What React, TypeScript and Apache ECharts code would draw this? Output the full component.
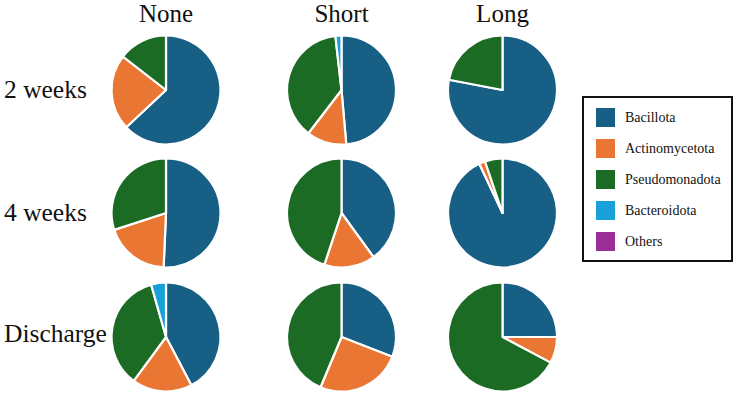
import React, { useEffect, useRef } from "react";
import * as echarts from "echarts";

// Phylum composition (%) per follow-up time point and antibiotic duration
const phyla = ["Bacillota", "Actinomycetota", "Pseudomonadota", "Bacteroidota", "Others"];
const phylumColors = ["#175f84", "#ea7634", "#1b6b25", "#1aa0d9", "#9b2d96"];
const durations = ["None", "Short", "Long"];
const timepoints = ["2 weeks", "4 weeks", "Discharge"];

// rows: timepoints, cols: durations, values in phylum order
const week2None = [63, 22.5, 14.5, 0, 0];
const week2Short = [48.6, 11.8, 37.8, 1.8, 0];
const week2Long = [78, 0, 22, 0, 0];
const week4None = [50.7, 19.3, 30, 0, 0];
const week4Short = [40, 15.1, 44.9, 0, 0];
const week4Long = [93, 1.8, 5.2, 0, 0];
const dischargeNone = [42.3, 17.8, 35.5, 4.4, 0];
const dischargeShort = [30.9, 25.4, 43.7, 0, 0];
const dischargeLong = [25, 7.8, 67.2, 0, 0];

const grid = [
  [week2None, week2Short, week2Long],
  [week4None, week4Short, week4Long],
  [dischargeNone, dischargeShort, dischargeLong],
];

const colX = [166, 341.5, 502.5];
const rowY = [90, 213, 337];
const pieR = 54.5;
const serif = "Liberation Serif";

export default function App() {
  const ref = useRef<HTMLDivElement>(null);

  useEffect(() => {
    if (!ref.current) return;
    const chart = echarts.init(ref.current, null, { renderer: "svg" });

    const series: any[] = [];
    grid.forEach((row, r) => {
      row.forEach((vals, c) => {
        series.push({
          type: "pie",
          name: `${timepoints[r]} ${durations[c]}`,
          center: [colX[c], rowY[r]],
          radius: [0, pieR],
          startAngle: 90,
          clockwise: true,
          silent: true,
          label: { show: false },
          labelLine: { show: false },
          emphasis: { disabled: true },
          itemStyle: { borderColor: "#ffffff", borderWidth: 2.2 },
          data: phyla
            .map((p, i) => ({
              name: p,
              value: vals[i],
              itemStyle: { color: phylumColors[i] },
            }))
            .filter((d) => d.value > 0),
        });
      });
    });

    const graphics: any[] = [];
    durations.forEach((d, c) => {
      graphics.push({
        type: "text",
        x: colX[c],
        y: 13,
        style: {
          text: d,
          font: `25px "${serif}"`,
          fill: "#111",
          align: "center",
          verticalAlign: "middle",
        },
      });
    });
    timepoints.forEach((t, r) => {
      graphics.push({
        type: "text",
        x: 4,
        y: [89, 212, 333][r],
        style: {
          text: t,
          font: `25.5px "${serif}"`,
          fill: "#111",
          align: "left",
          verticalAlign: "middle",
        },
      });
    });

    // boxed legend on the right
    const legendItems: any[] = [
      {
        type: "rect",
        shape: { x: 0, y: 0, width: 149, height: 164 },
        style: { fill: "#fff", stroke: "#111", lineWidth: 2 },
      },
    ];
    phyla.forEach((p, i) => {
      const cy = 20.5 + i * 31;
      legendItems.push({
        type: "rect",
        shape: { x: 13, y: cy - 9.5, width: 19, height: 19 },
        style: { fill: phylumColors[i] },
      });
      legendItems.push({
        type: "text",
        x: 42,
        y: cy,
        style: {
          text: p,
          font: `14px "${serif}"`,
          fill: "#111",
          align: "left",
          verticalAlign: "middle",
        },
      });
    });
    graphics.push({ type: "group", x: 583, y: 97, children: legendItems });

    chart.setOption({
      animation: false,
      backgroundColor: "#ffffff",
      graphic: graphics,
      series,
    });

    return () => chart.dispose();
  }, []);

  return (
    <div
      ref={ref}
      style={{ position: "fixed", left: 0, top: 0, width: 738, height: 397 }}
    />
  );
}
